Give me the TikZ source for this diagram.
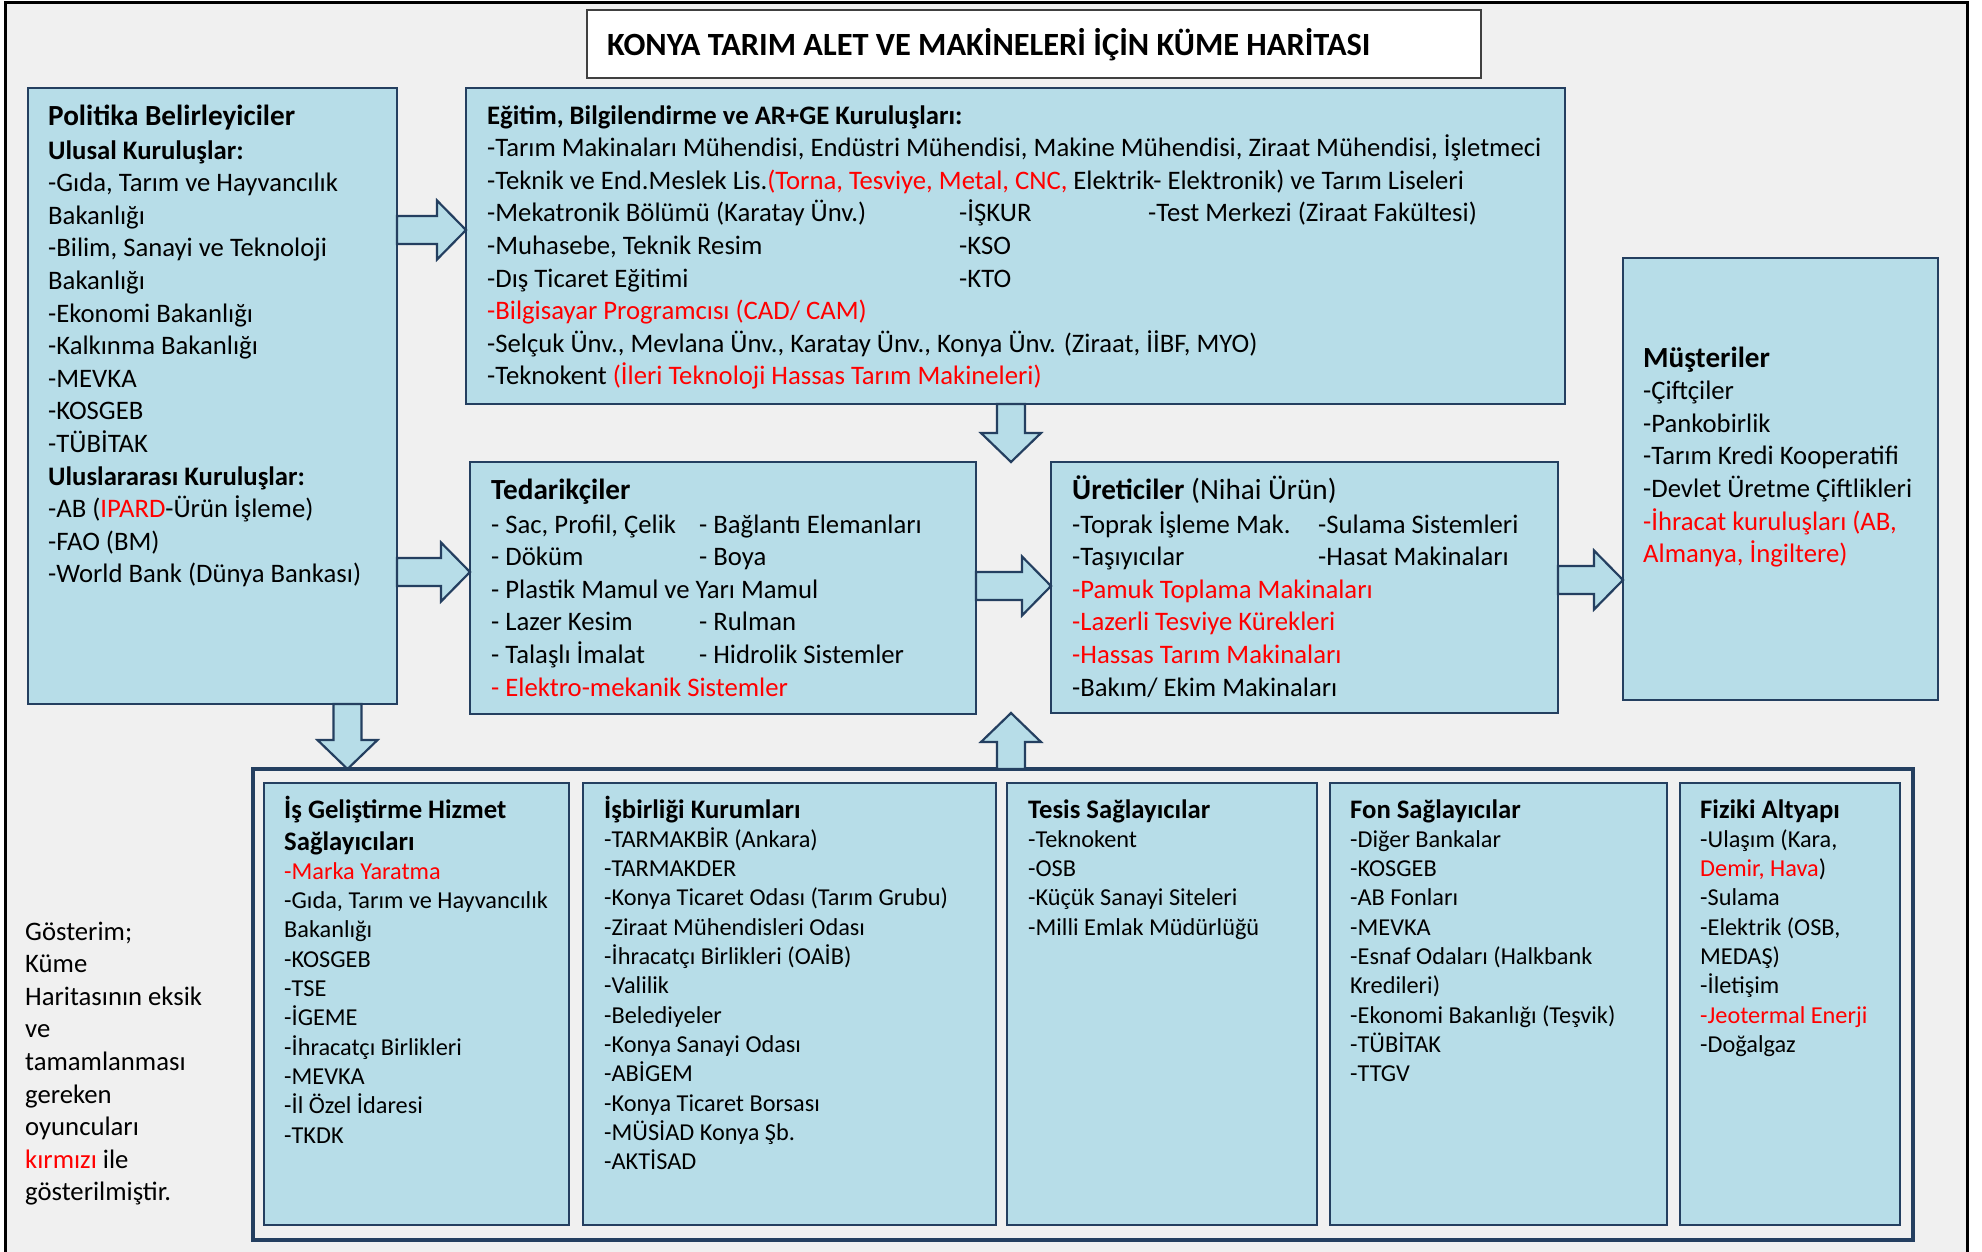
\documentclass[tikz,border=0pt]{standalone}
\usepackage{fontspec}
\setmainfont{Carlito}
\usetikzlibrary{calc}

\definecolor{acikmavi}{HTML}{B7DDE8}
\definecolor{lacivert}{HTML}{243F60}
\definecolor{zemin}{HTML}{F0F0F0}
\definecolor{koyugri}{HTML}{404040}

% font sizes (1pt = 1 pixel of the map)
\newcommand{\govde}{\fontsize{26.7pt}{32.6pt}\selectfont}
\newcommand{\buyuk}{\fontsize{29.2pt}{35pt}\selectfont}
\newcommand{\kucuk}{\fontsize{24.3pt}{29.3pt}\selectfont}
% lines of a box, baseline = first line
\newcommand{\satirlar}[1]{\begin{tabular}[t]{@{}l@{}}#1\end{tabular}}

\tikzset{
  kutu/.style={draw=lacivert, fill=acikmavi, line width=2.2pt, anchor=north west,
    inner sep=0pt, outer sep=0pt},
  yazi/.style={anchor=base west, inner sep=0pt, font=\govde},
  kyazi/.style={yazi, font=\kucuk},
  okblok/.style={draw=lacivert, fill=acikmavi, line width=2.2pt, line join=miter}
}

% block arrows between boxes
\newcommand{\okSag}[2]{%
  \draw[okblok] let \p1=(#1), \p2=(#2) in
    (\x1,\y1+14pt) -- (\x2-29pt,\y1+14pt) -- (\x2-29pt,\y1+29.5pt) -- (\x2,\y1)
    -- (\x2-29pt,\y1-29.5pt) -- (\x2-29pt,\y1-14pt) -- (\x1,\y1-14pt) -- cycle;}
\newcommand{\okAsagi}[2]{%
  \draw[okblok] let \p1=(#1), \p2=(#2) in
    (\x1-14pt,\y1) -- (\x1-14pt,\y2+29pt) -- (\x1-30pt,\y2+29pt) -- (\x1,\y2)
    -- (\x1+30pt,\y2+29pt) -- (\x1+14pt,\y2+29pt) -- (\x1+14pt,\y1) -- cycle;}
\newcommand{\okYukari}[2]{%
  \draw[okblok] let \p1=(#1), \p2=(#2) in
    (\x1-14pt,\y1) -- (\x1-14pt,\y2-29pt) -- (\x1-30pt,\y2-29pt) -- (\x1,\y2)
    -- (\x1+30pt,\y2-29pt) -- (\x1+14pt,\y2-29pt) -- (\x1+14pt,\y1) -- cycle;}

\begin{document}
\begin{tikzpicture}[x=1pt,y=-1pt]
\useasboundingbox (0,0) rectangle (1982,1251);
\fill[white] (0,0) rectangle (1982,1251);
\draw[line width=3pt, fill=zemin] (5,2) rectangle (1967,1275);

% title
\node[kutu, draw=koyugri, fill=white, line width=2pt, minimum width=894pt, minimum height=68pt] (baslik) at (587,10) {};
\node[yazi, font=\fontsize{32.4pt}{38pt}\selectfont\bfseries] (baslikyazi) at ([shift={(20,45)}]baslik.north west)
  {KONYA TARIM ALET VE MAKİNELERİ İÇİN KÜME HARİTASI};

% upper boxes
\node[kutu, minimum width=369pt, minimum height=616pt] (politika) at (28,88) {};
\node[kutu, minimum width=1099pt, minimum height=316pt] (egitim) at (466,88) {};
\node[kutu, minimum width=506pt, minimum height=252pt] (tedarik) at (470,462) {};
\node[kutu, minimum width=507pt, minimum height=251pt] (uretici) at (1051,462) {};
\node[kutu, minimum width=315pt, minimum height=442pt] (musteri) at (1623,258) {};

% lower group
\node[kutu, fill=none, line width=3.5pt, minimum width=1660pt, minimum height=471pt] (grup) at (253,769) {};
\node[kutu, minimum width=305pt, minimum height=442pt] (isgel) at (264,783) {};
\node[kutu, minimum width=413pt, minimum height=442pt] (isbirligi) at (583,783) {};
\node[kutu, minimum width=310pt, minimum height=442pt] (tesis) at (1007,783) {};
\node[kutu, minimum width=337pt, minimum height=442pt] (fon) at (1330,783) {};
\node[kutu, minimum width=220pt, minimum height=442pt] (fiziki) at (1680,783) {};

% arrows
\coordinate (orta) at (1011,0);
\okSag{politika.east |- 0,230}{egitim.west |- 0,230}
\okSag{politika.east |- 0,572}{tedarik.west |- 0,572}
\okSag{tedarik.east |- 0,586}{uretici.west |- 0,586}
\okSag{uretici.east |- 0,580}{musteri.west |- 0,580}
\okAsagi{politika.south -| 347.5,0}{grup.north -| 347.5,0}
\okAsagi{egitim.south -| orta}{uretici.north -| orta}
\okYukari{grup.north -| orta}{uretici.south -| orta}

% texts
\node[yazi] (politikayazi) at ([shift={(20,37)}]politika.north west) {\satirlar{%
{\buyuk\textbf{Politika Belirleyiciler}}\\[1.4pt]
\textbf{Ulusal Kuruluşlar:}\\
-Gıda, Tarım ve Hayvancılık\\
Bakanlığı\\
-Bilim, Sanayi ve Teknoloji\\
Bakanlığı\\
-Ekonomi Bakanlığı\\
-Kalkınma Bakanlığı\\
-MEVKA\\
-KOSGEB\\
-TÜBİTAK\\
\textbf{Uluslararası Kuruluşlar:}\\
-AB (\textcolor{red}{IPARD}-Ürün İşleme)\\
-FAO (BM)\\
-World Bank (Dünya Bankası)}};

\node[yazi] (egitimyazi) at ([shift={(21,36)}]egitim.north west) {\satirlar{%
\textbf{Eğitim, Bilgilendirme ve AR+GE Kuruluşları:}\\
-Tarım Makinaları Mühendisi, Endüstri Mühendisi, Makine Mühendisi, Ziraat Mühendisi, İşletmeci\\
-Teknik ve End.Meslek Lis.\textcolor{red}{(Torna, Tesviye, Metal, CNC,} Elektrik- Elektronik) ve Tarım Liseleri\\
\makebox[472pt][l]{-Mekatronik Bölümü (Karatay Ünv.)}\makebox[189pt][l]{-İŞKUR}-Test Merkezi (Ziraat Fakültesi)\\
\makebox[472pt][l]{-Muhasebe, Teknik Resim}-KSO\\
\makebox[472pt][l]{-Dış Ticaret Eğitimi}-KTO\\
\textcolor{red}{-Bilgisayar Programcısı (CAD/ CAM)}\\
-Selçuk Ünv., Mevlana Ünv., Karatay Ünv., Konya Ünv. (Ziraat, İİBF, MYO)\\
-Teknokent \textcolor{red}{(İleri Teknoloji Hassas Tarım Makineleri)}}};

\node[yazi] (tedarikyazi) at ([shift={(21,37)}]tedarik.north west) {\satirlar{%
{\buyuk\textbf{Tedarikçiler}}\\[1.4pt]
\makebox[208pt][l]{- Sac, Profil, Çelik}- Bağlantı Elemanları\\
\makebox[208pt][l]{- Döküm}- Boya\\
- Plastik Mamul ve Yarı Mamul\\
\makebox[208pt][l]{- Lazer Kesim}- Rulman\\
\makebox[208pt][l]{- Talaşlı İmalat}- Hidrolik Sistemler\\
\textcolor{red}{- Elektro-mekanik Sistemler}}};

\node[yazi] (ureticiyazi) at ([shift={(21,37)}]uretici.north west) {\satirlar{%
{\buyuk\textbf{Üreticiler} (Nihai Ürün)}\\[1.4pt]
\makebox[246pt][l]{-Toprak İşleme Mak.}-Sulama Sistemleri\\
\makebox[246pt][l]{-Taşıyıcılar}-Hasat Makinaları\\
\textcolor{red}{-Pamuk Toplama Makinaları}\\
\textcolor{red}{-Lazerli Tesviye Kürekleri}\\
\textcolor{red}{-Hassas Tarım Makinaları}\\
-Bakım/ Ekim Makinaları}};

\node[yazi] (musteriyazi) at ([shift={(20,109)}]musteri.north west) {\satirlar{%
{\buyuk\textbf{Müşteriler}}\\
-Çiftçiler\\
-Pankobirlik\\
-Tarım Kredi Kooperatifi\\
-Devlet Üretme Çiftlikleri\\
\textcolor{red}{-İhracat kuruluşları (AB,}\\
\textcolor{red}{Almanya, İngiltere)}}};

\node[kyazi] (isgelyazi) at ([shift={(20,35)}]isgel.north west) {\satirlar{%
{\govde\textbf{İş Geliştirme Hizmet}}\\[2.7pt]
{\govde\textbf{Sağlayıcıları}}\\
\textcolor{red}{-Marka Yaratma}\\
-Gıda, Tarım ve Hayvancılık\\
Bakanlığı\\
-KOSGEB\\
-TSE\\
-İGEME\\
-İhracatçı Birlikleri\\
-MEVKA\\
-İl Özel İdaresi\\
-TKDK}};

\node[kyazi] (isbirligiyazi) at ([shift={(21,35)}]isbirligi.north west) {\satirlar{%
{\govde\textbf{İşbirliği Kurumları}}\\
-TARMAKBİR (Ankara)\\
-TARMAKDER\\
-Konya Ticaret Odası (Tarım Grubu)\\
-Ziraat Mühendisleri Odası\\
-İhracatçı Birlikleri (OAİB)\\
-Valilik\\
-Belediyeler\\
-Konya Sanayi Odası\\
-ABİGEM\\
-Konya Ticaret Borsası\\
-MÜSİAD Konya Şb.\\
-AKTİSAD}};

\node[kyazi] (tesisyazi) at ([shift={(21,35)}]tesis.north west) {\satirlar{%
{\govde\textbf{Tesis Sağlayıcılar}}\\
-Teknokent\\
-OSB\\
-Küçük Sanayi Siteleri\\
-Milli Emlak Müdürlüğü}};

\node[kyazi] (fonyazi) at ([shift={(20,35)}]fon.north west) {\satirlar{%
{\govde\textbf{Fon Sağlayıcılar}}\\
-Diğer Bankalar\\
-KOSGEB\\
-AB Fonları\\
-MEVKA\\
-Esnaf Odaları (Halkbank\\
Kredileri)\\
-Ekonomi Bakanlığı (Teşvik)\\
-TÜBİTAK\\
-TTGV}};

\node[kyazi] (fizikiyazi) at ([shift={(20,35)}]fiziki.north west) {\satirlar{%
{\govde\textbf{Fiziki Altyapı}}\\
-Ulaşım (Kara,\\
\textcolor{red}{Demir, Hava})\\
-Sulama\\
-Elektrik (OSB,\\
MEDAŞ)\\
-İletişim\\
\textcolor{red}{-Jeotermal Enerji}\\
-Doğalgaz}};

% legend
\node[yazi] (gosterim) at (25,940) {\satirlar{%
Gösterim;\\
Küme\\
Haritasının eksik\\
ve\\
tamamlanması\\
gereken\\
oyuncuları\\
\textcolor{red}{kırmızı} ile\\
gösterilmiştir.}};

\end{tikzpicture}
\end{document}
